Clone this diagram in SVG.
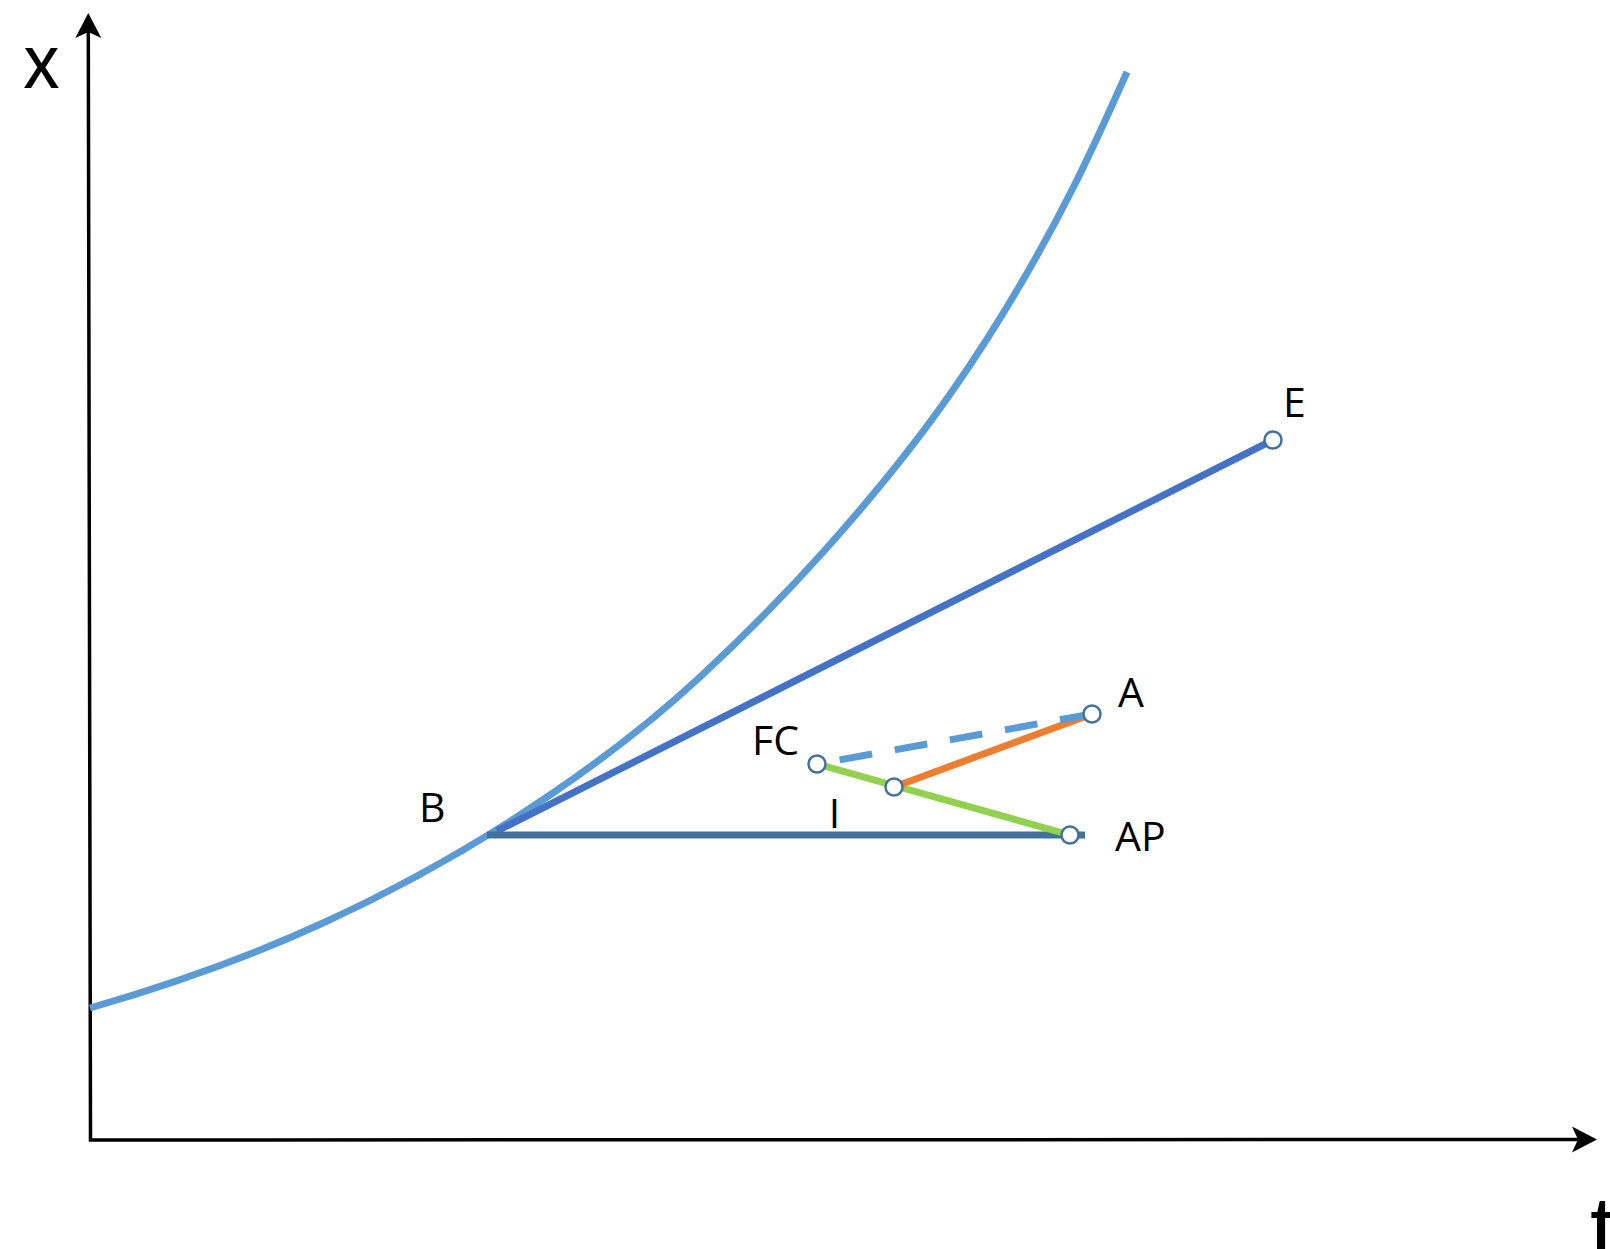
<svg xmlns="http://www.w3.org/2000/svg" width="1610" height="1249" viewBox="0 0 1610 1249">
<style>
.lbl{font-family:"Open Sans","Liberation Sans",sans-serif;font-size:41px;fill:#000}
.axl{font-family:"Open Sans","Liberation Sans",sans-serif;font-weight:600;fill:#000}
.pt{fill:#fff;stroke:#41719C;stroke-width:2.5}
.ln{fill:none;stroke-width:7}
</style>
<defs>
<marker id="arr" viewBox="-7 -14 28 28" markerWidth="28" markerHeight="28" refX="0" refY="0" markerUnits="userSpaceOnUse" orient="auto-start-reverse">
<path d="M19,0 L-6,-13 L0,0 L-6,13 Z" fill="#000"/>
</marker>
</defs>
<rect width="1610" height="1249" fill="#fff"/>
<g id="axes">
<path d="M88.3,32 L90.5,1140 L1578,1139.5" fill="none" stroke="#000" stroke-width="3.5" stroke-linejoin="miter" marker-start="url(#arr)" marker-end="url(#arr)"/>
<text class="axl" x="24" y="88" font-size="56">X</text>
<text x="1590" y="1261" font-family="Liberation Sans, Arial, sans-serif" font-size="92" fill="#000">t</text>
</g>
<g id="connectors">
<path id="curve" class="ln" stroke="#5B9BD5" d="M90,1008 C167.67,985.48 245.33,958.73 323,923 C398.67,888.19 474.33,846.45 550,795 C600,761 650,723.5 700,677 C741.67,638.25 783.33,596.67 825,550 C867.67,502.21 910.33,451.44 953,390 C993,332.4 1033,267.2 1073,188 C1091,152.36 1109,112.5 1127,72"/>
<line id="BE" class="ln" stroke="#4472C4" x1="497" y1="831" x2="1273" y2="440"/>
<line id="BAP" class="ln" stroke="#41719C" x1="487" y1="835" x2="1085" y2="835"/>
<line id="FC-AP" class="ln" stroke="#92D050" x1="817" y1="764" x2="1070" y2="835"/>
<line id="M-A" class="ln" stroke="#ED7D31" x1="894" y1="787" x2="1092" y2="714"/>
<line id="FC-A" class="ln" stroke="#5B9BD5" stroke-width="7.5" stroke-dasharray="33 23" stroke-dashoffset="33" x1="817" y1="764" x2="1092" y2="714"/>
</g>
<g id="B"><text class="lbl" x="419" y="822">B</text></g>
<g id="E"><circle class="pt" cx="1273" cy="440" r="8.5"/><text class="lbl" x="1283" y="417">E</text></g>
<g id="FC"><circle class="pt" cx="817" cy="764" r="8.5"/><text class="lbl" x="752" y="755">FC</text></g>
<g id="I"><circle class="pt" cx="894" cy="787" r="8.5"/><text class="lbl" x="834.5" y="828" text-anchor="middle">I</text></g>
<g id="A"><circle class="pt" cx="1092" cy="714" r="8.5"/><text class="lbl" x="1118" y="707">A</text></g>
<g id="AP"><circle class="pt" cx="1070" cy="835" r="8.5"/><text class="lbl" x="1115" y="851">AP</text></g>
</svg>
